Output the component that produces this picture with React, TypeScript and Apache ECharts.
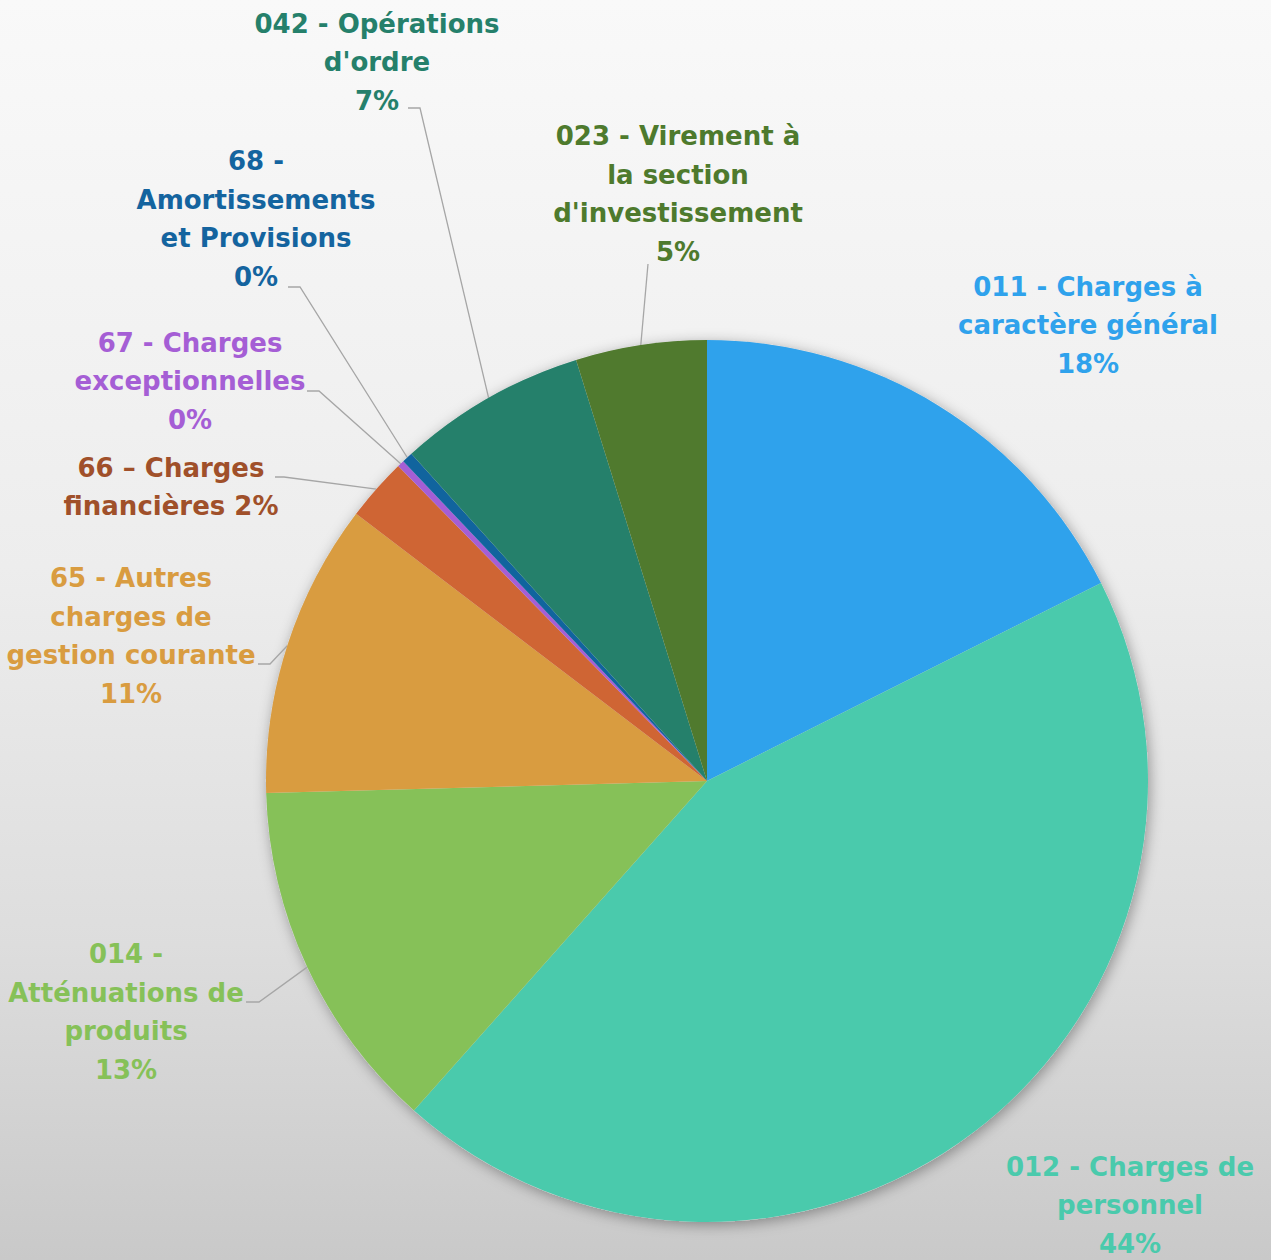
import React, { useEffect, useRef } from "react";
import * as echarts from "echarts";

// Data (percent shares)
const categories = [
  "011 - Charges à\ncaractère général",
  "012 - Charges de\npersonnel",
  "014 -\nAtténuations de\nproduits",
  "65 - Autres\ncharges de\ngestion courante",
  "66 – Charges\nfinancières",
  "67 - Charges\nexceptionnelles",
  "68 -\nAmortissements\net Provisions",
  "042 - Opérations\nd'ordre",
  "023 - Virement à\nla section\nd'investissement",
];
const values = [17.6, 44.0, 13.0, 10.8, 2.3, 0.25, 0.4, 6.9, 4.8];

// Styles
const sliceColors = ["#2FA2EC", "#4ACAAC", "#86C158", "#D99C40", "#CF6534", "#A55ED5", "#11649E", "#25806B", "#507A2E"];
const labelColors = ["#2FA2EC", "#4ACAAC", "#86C158", "#D99C40", "#A0502A", "#A55ED5", "#14649F", "#25806B", "#4E7A2D"];
const pctSameLine = [false, false, false, false, true, false, false, false, false];
const showLeader = [false, false, true, true, true, true, true, true, true];

// Layout (label block centers, leader line end and elbow)
const labelCenters: number[][] = [
  [1088, 325], [1130, 1205], [126, 1012], [131, 636], [171, 487], [190, 381], [256, 219], [377, 62], [678, 194],
];
const leaderEnds: number[][] = [
  [0, 0], [0, 0], [246, 1002], [258, 664], [275, 477], [307, 391], [288, 287], [408, 108], [648, 264],
];
const leaderElbows: number[][] = [
  [0, 0], [0, 0], [259, 1002], [270, 664], [284, 477], [319, 391], [300, 287], [420, 108], [648, 264],
];

const CX = 707;
const CY = 781;
const R = 441;

export default function App() {
  const ref = useRef<HTMLDivElement>(null);
  useEffect(() => {
    if (!ref.current) return;
    const chart = echarts.init(ref.current, undefined, { renderer: "svg" });
    const total = values.reduce((a, b) => a + b, 0);

    const midPoint = (idx: number) => {
      let cum = 0;
      for (let i = 0; i < idx; i++) cum += values[i];
      const mid = ((cum + values[idx] / 2) / total) * Math.PI * 2;
      return [CX + R * Math.sin(mid), CY - R * Math.cos(mid)];
    };

    chart.setOption({
      animation: false,
      backgroundColor: new echarts.graphic.LinearGradient(0, 0, 0, 1, [
        { offset: 0, color: "#F9F9F9" },
        { offset: 0.45, color: "#EDEDED" },
        { offset: 0.75, color: "#DDDDDD" },
        { offset: 1, color: "#C9C9C9" },
      ]),
      series: [
        {
          type: "pie",
          silent: true,
          center: [CX, CY],
          radius: R,
          z: 1,
          label: { show: false },
          labelLine: { show: false },
          itemStyle: {
            color: "#DDDDDD",
            shadowBlur: 14,
            shadowColor: "rgba(0,0,0,0.35)",
            shadowOffsetX: 2,
            shadowOffsetY: 3,
          },
          data: [{ value: 1, name: "shadow" }],
        },
        {
          type: "pie",
          z: 2,
          center: [CX, CY],
          radius: R,
          startAngle: 90,
          clockwise: true,
          avoidLabelOverlap: false,
          emphasis: { disabled: true },
          itemStyle: { borderWidth: 0 },
          label: {
            show: true,
            position: "outside",
            fontFamily: "DejaVu Sans",
            fontWeight: "bold",
            fontSize: 26,
            lineHeight: 38.5,
            align: "center",
            formatter: (p: any) => {
              const pct = Math.round((p.value / total) * 100) + "%";
              return p.name + (pctSameLine[p.dataIndex] ? " " : "\n") + pct;
            },
          },
          labelLine: {
            show: true,
            length: 10,
            length2: 10,
            lineStyle: { color: "#A6A6A6", width: 1.3 },
          },
          labelLayout: (params: any) => {
            const i = params.dataIndex;
            const c = labelCenters[i];
            const out: any = { x: c[0], y: c[1], align: "center", verticalAlign: "middle" };
            if (showLeader[i]) {
              const start =
                params.labelLinePoints && params.labelLinePoints[0]
                  ? params.labelLinePoints[0]
                  : midPoint(i);
              out.labelLinePoints = [start, leaderElbows[i], leaderEnds[i]];
            }
            return out;
          },
          data: categories.map((name, i) => ({
            name,
            value: values[i],
            itemStyle: { color: sliceColors[i] },
            label: { color: labelColors[i] },
            labelLine: { show: showLeader[i] },
          })),
        },
      ],
    });
    return () => chart.dispose();
  }, []);
  return (
    <div
      ref={ref}
      style={{ position: "fixed", left: 0, top: 0, width: 1271, height: 1260 }}
    />
  );
}
